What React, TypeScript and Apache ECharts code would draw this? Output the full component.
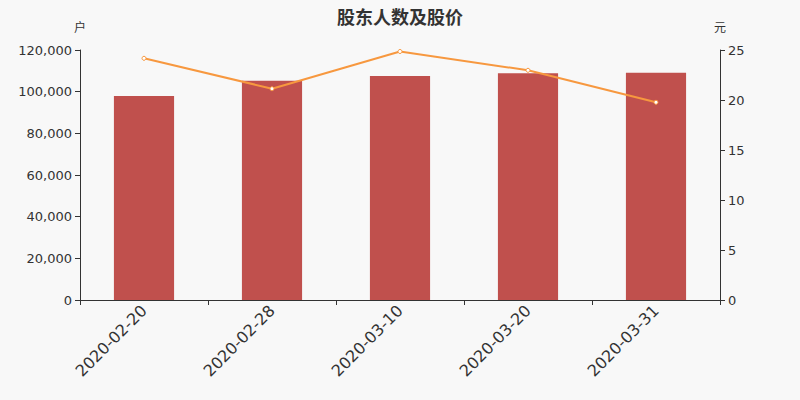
import React, { useEffect, useRef } from 'react';
import * as echarts from 'echarts';

const dates = ['2020-02-20', '2020-02-28', '2020-03-10', '2020-03-20', '2020-03-31'];
const holders = [97900, 105300, 107500, 108800, 109100];
const prices = [24.17, 21.13, 24.85, 22.97, 19.77];

const App: React.FC = () => {
  const chartRef = useRef<HTMLDivElement>(null);

  useEffect(() => {
    if (!chartRef.current) return;
    const chart = echarts.init(chartRef.current, undefined, { renderer: 'svg' });

    const axisLine = { show: true, lineStyle: { color: '#333' } };

    chart.setOption({
      animation: false,
      backgroundColor: '#f8f8f8',
      textStyle: { fontFamily: '"DejaVu Sans", "Noto Sans CJK SC", sans-serif' },
      title: {
        text: '股东人数及股价',
        left: 'center',
        top: 3,
        textStyle: { fontSize: 18, fontWeight: 'bold', color: '#333' },
      },
      grid: { left: 80, right: 80, top: 50, bottom: 100 },
      xAxis: {
        type: 'category',
        data: dates,
        axisLine,
        axisTick: { show: true },
        axisLabel: { rotate: 45, fontSize: 16, color: '#333', margin: 8 },
      },
      yAxis: [
        {
          type: 'value',
          name: '户',
          nameGap: 16,
          nameTextStyle: { color: '#333', fontSize: 12 },
          min: 0,
          max: 120000,
          interval: 20000,
          axisLine,
          axisTick: { show: true },
          splitLine: { show: false },
          axisLabel: {
            color: '#333',
            fontSize: 13,
            formatter: (v: number) => v.toLocaleString('en-US'),
          },
        },
        {
          type: 'value',
          name: '元',
          nameGap: 16,
          nameTextStyle: { color: '#333', fontSize: 12 },
          min: 0,
          max: 25,
          interval: 5,
          axisLine,
          axisTick: { show: true },
          splitLine: { show: false },
          axisLabel: { color: '#333', fontSize: 13 },
        },
      ],
      series: [
        {
          type: 'bar',
          data: holders,
          barWidth: '47%',
          itemStyle: { color: '#c0504d' },
        },
        {
          type: 'line',
          yAxisIndex: 1,
          data: prices,
          symbol: 'circle',
          symbolSize: 4,
          lineStyle: { color: '#f7983f', width: 2 },
          itemStyle: { color: '#fff', borderColor: '#f7983f', borderWidth: 1 },
        },
      ],
    });

    return () => {
      chart.dispose();
    };
  }, []);

  return (
    <div
      ref={chartRef}
      style={{ position: 'absolute', left: 0, top: 0, width: '800px', height: '400px' }}
    />
  );
};

export default App;
